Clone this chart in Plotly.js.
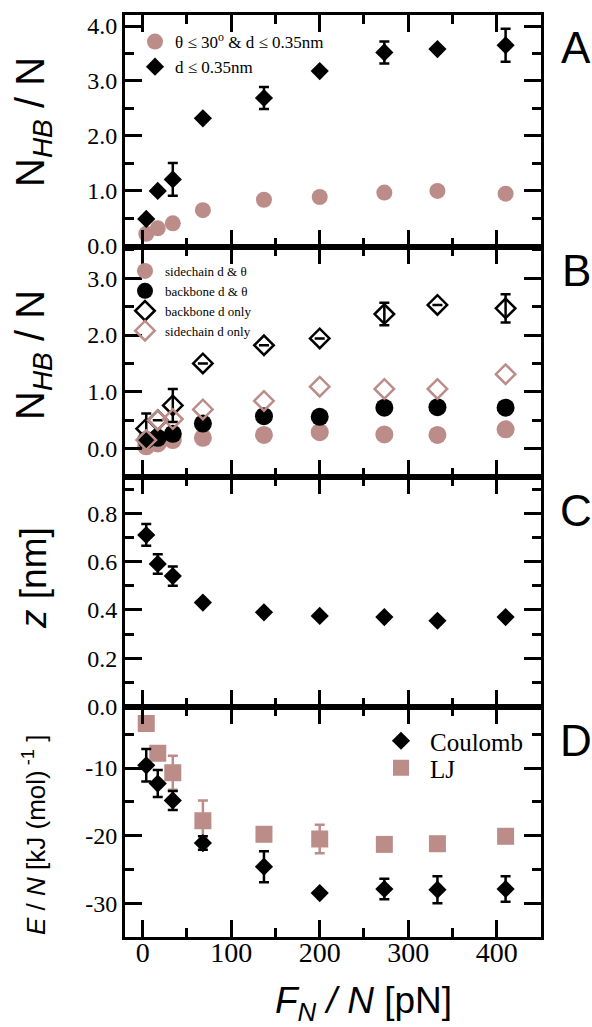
<!DOCTYPE html>
<html><head><meta charset="utf-8">
<script src="https://cdn.plot.ly/plotly-3.0.1.min.js"></script>
<style>html,body{margin:0;padding:0;background:#fff}#chart{width:592px;height:1027px}</style>
</head><body><div id="chart"></div>
<script>
// x values (F_N / N in pN)
const forcePerN = [4, 17, 34, 68, 137, 200, 273, 333, 410];
// Panel A
const hbAngleDist = [0.22, 0.32, 0.41, 0.65, 0.84, 0.89, 0.97, 1.0, 0.95];
const hbDistOnly = [0.49, 1.0, 1.21, 2.32, 2.69, 3.18, 3.52, 3.58, 3.65];
const hbDistOnlyErr = [null, null, 0.3, null, 0.2, null, 0.2, null, 0.3];
// Panel B
const sideAngleDist = [0.04, 0.09, 0.15, 0.19, 0.24, 0.29, 0.25, 0.24, 0.34];
const backAngleDist = [0.15, 0.19, 0.26, 0.44, 0.57, 0.56, 0.72, 0.73, 0.72];
const backDistOnly = [0.35, 0.5, 0.76, 1.5, 1.82, 1.94, 2.37, 2.53, 2.47];
const backDistOnlyErr = [0.27, null, 0.29, null, null, null, 0.2, null, 0.25];
const sideDistOnly = [0.15, 0.5, 0.52, 0.69, 0.84, 1.09, 1.05, 1.05, 1.31];
// Panel C
const zHeight = [0.71, 0.59, 0.54, 0.43, 0.39, 0.375, 0.37, 0.355, 0.37];
const zHeightErr = [0.045, 0.04, 0.04, null, null, null, null, null, null];
// Panel D
const coulombE = [-9.6, -12.3, -14.8, -21.1, -24.6, -28.5, -27.9, -28.0, -27.9];
const coulombErr = [2.4, 2.0, 1.4, 1.0, 2.3, null, 1.5, 2.0, 1.9];
const ljE = [-3.4, -7.8, -10.7, -17.8, -19.8, -20.5, -21.3, -21.2, -20.1];
const ljErr = [null, null, 2.5, 3.0, null, 2.1, null, null, null];

// tick values / labels
const xTickVals = [0, 100, 200, 300, 400];
const xTickText = ['0', '100', '200', '300', '400'];
const aTickVals = [0, 1, 2, 3, 4];
const aTickText = ['0.0', '1.0', '2.0', '3.0', '4.0'];
const bTickVals = [0, 1, 2, 3];
const bTickText = ['0.0', '1.0', '2.0', '3.0'];
const cTickVals = [0, 0.2, 0.4, 0.6, 0.8];
const cTickText = ['0.0', '0.2', '0.4', '0.6', '0.8'];
const dTickVals = [-30, -20, -10];
const dTickText = ['-30', '-20', '-10'];

const PINK = '#bc8c89';
const BLACK = '#000';
const SERIF = 'Liberation Serif';
const SANS = 'Liberation Sans';

function errs(arr, color) {
  return {type: 'data', array: arr, visible: true, thickness: 2.5, width: 5, color: color};
}

const traces = [
  {x: forcePerN, y: hbAngleDist, xaxis: 'x', yaxis: 'y', mode: 'markers', legend: 'legend',
   name: 'θ ≤ 30<sup>o</sup> &amp; d ≤ 0.35nm', marker: {symbol: 'circle', size: 16, color: PINK}},
  {x: forcePerN, y: hbDistOnly, xaxis: 'x', yaxis: 'y', mode: 'markers', legend: 'legend',
   name: 'd ≤ 0.35nm', marker: {symbol: 'diamond', size: 14, color: BLACK}, error_y: errs(hbDistOnlyErr, BLACK)},

  {x: forcePerN, y: sideAngleDist, xaxis: 'x2', yaxis: 'y2', mode: 'markers', legend: 'legend2',
   name: 'sidechain d &amp; θ', marker: {symbol: 'circle', size: 18, color: PINK}},
  {x: forcePerN, y: backAngleDist, xaxis: 'x2', yaxis: 'y2', mode: 'markers', legend: 'legend2',
   name: 'backbone d &amp; θ', marker: {symbol: 'circle', size: 18, color: BLACK}},
  {x: forcePerN, y: backDistOnly, xaxis: 'x2', yaxis: 'y2', mode: 'markers', legend: 'legend2',
   name: 'backbone d only', marker: {symbol: 'diamond-open', size: 15, color: BLACK, line: {width: 2.5, color: BLACK}},
   error_y: errs(backDistOnlyErr, BLACK)},
  {x: forcePerN, y: sideDistOnly, xaxis: 'x2', yaxis: 'y2', mode: 'markers', legend: 'legend2',
   name: 'sidechain d only', marker: {symbol: 'diamond-open', size: 15, color: PINK, line: {width: 2.5, color: PINK}}},

  {x: forcePerN, y: zHeight, xaxis: 'x3', yaxis: 'y3', mode: 'markers', showlegend: false,
   name: 'z', marker: {symbol: 'diamond', size: 14, color: BLACK}, error_y: errs(zHeightErr, BLACK)},

  {x: forcePerN, y: ljE, xaxis: 'x4', yaxis: 'y4', mode: 'markers', legend: 'legend4',
   name: 'LJ', marker: {symbol: 'square', size: 17, color: PINK}, error_y: errs(ljErr, PINK)},
  {x: forcePerN, y: coulombE, xaxis: 'x4', yaxis: 'y4', mode: 'markers', legend: 'legend3',
   name: 'Coulomb', marker: {symbol: 'diamond', size: 14, color: BLACK}, error_y: errs(coulombErr, BLACK)}
];

function xAx(anchor, showLabels) {
  return {
    anchor: anchor, domain: [0, 1], range: [-20, 450],
    showline: true, mirror: 'ticks', linecolor: BLACK, linewidth: 3,
    ticks: 'inside', ticklen: 17, tickwidth: 2.5, tickcolor: BLACK,
    tickmode: 'array', tickvals: xTickVals, ticktext: xTickText,
    showticklabels: showLabels, tickfont: {family: SERIF, size: 28, color: BLACK},
    ticklabelstandoff: -12,
    minor: {tickmode: 'linear', tick0: 0, dtick: 50, ticks: 'inside', ticklen: 9, tickwidth: 2.5, tickcolor: BLACK, showgrid: false},
    showgrid: false, zeroline: false
  };
}
function yAx(anchor, domain, range, vals, text, minorDt) {
  return {
    anchor: anchor, domain: domain, range: range,
    showline: true, mirror: 'ticks', linecolor: BLACK, linewidth: 3,
    ticks: 'inside', ticklen: 17, tickwidth: 2.5, tickcolor: BLACK,
    tickmode: 'array', tickvals: vals, ticktext: text,
    tickfont: {family: SERIF, size: 24, color: BLACK},
    minor: {tickmode: 'linear', tick0: 0, dtick: minorDt, ticks: 'inside', ticklen: 9, tickwidth: 2.5, tickcolor: BLACK, showgrid: false},
    showgrid: false, zeroline: false
  };
}

const W = 592, H = 1027, ML = 125, MR = 51, MT = 15, MB = 90;
const PW = W - ML - MR, PH = H - MT - MB;
function px(x) { return (x - ML) / PW; }
function py(y) { return (H - MB - y) / PH; }

const ann = (text, x, y, size, opts) => Object.assign({
  text: text, xref: 'paper', yref: 'paper', x: px(x), y: py(y),
  xanchor: 'center', yanchor: 'middle', showarrow: false,
  font: {family: SANS, size: size, color: BLACK}
}, opts || {});

const legBase = (x, y, size, extra) => Object.assign({
  x: px(x), y: py(y), xanchor: 'left', yanchor: 'top', bgcolor: 'rgba(0,0,0,0)',
  font: {family: SERIF, size: size, color: BLACK}, tracegroupgap: 0
}, extra || {});

const layout = {
  width: W, height: H,
  margin: {l: ML, r: MR, t: MT, b: MB},
  paper_bgcolor: '#fff', plot_bgcolor: '#fff',
  font: {family: SERIF, color: BLACK},
  xaxis: xAx('y', false),
  xaxis2: xAx('y2', false),
  xaxis3: xAx('y3', false),
  xaxis4: xAx('y4', true),
  yaxis: yAx('x', [py(247), 1], [-0.02, 4.2], aTickVals, aTickText, 0.5),
  yaxis2: yAx('x2', [py(477), py(247)], [-0.5, 3.55], bTickVals, bTickText, 0.5),
  yaxis3: yAx('x3', [py(706.5), py(477)], [0, 0.95], cTickVals, cTickText, 0.1),
  yaxis4: yAx('x4', [0, py(706.5)], [-35, -0.9], dTickVals, dTickText, 5),
  legend: legBase(135, 24, 17),
  legend2: legBase(125, 256, 13),
  legend3: legBase(372, 718, 25, {itemwidth: 48}),
  legend4: legBase(372, 745, 25, {itemwidth: 48}),
  annotations: [
    ann('A', 576, 47, 44),
    ann('B', 576, 270, 44),
    ann('C', 576, 510, 44),
    ann('D', 576, 740, 44),
    ann('N<sub><i>HB</i></sub> / N', 33, 122, 40, {textangle: -90}),
    ann('N<sub><i>HB</i></sub> / N', 33, 355, 40, {textangle: -90}),
    ann('<i>z</i> [nm]', 33, 578, 37, {textangle: -90}),
    ann('<i>E</i> / <i>N</i> [kJ (mol)<sup> -1</sup> ]', 34, 835, 26, {textangle: -90}),
    ann('<i>F</i><sub><i>N</i></sub> <i>/ N</i> [pN]', 363, 1003, 37)
  ]
};

Plotly.newPlot('chart', traces, layout, {displayModeBar: false});
</script>
</body></html>
